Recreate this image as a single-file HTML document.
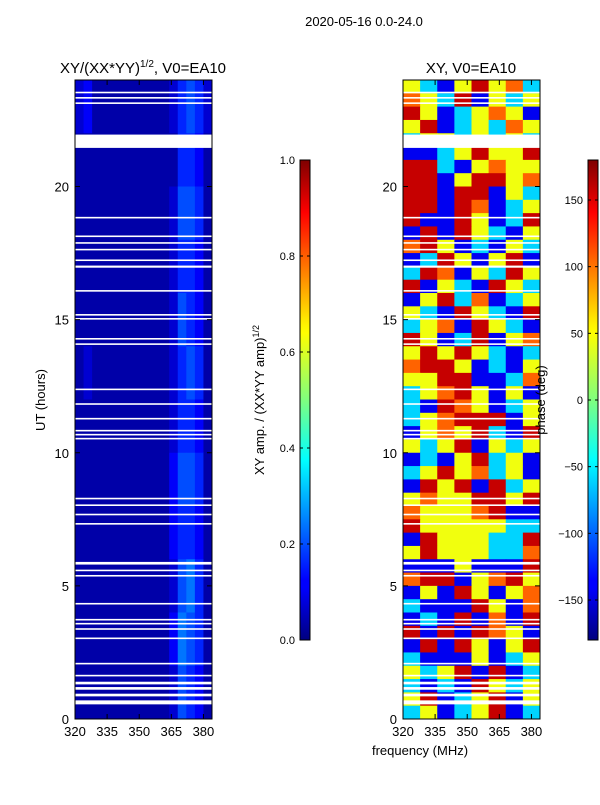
<!DOCTYPE html>
<html><head><meta charset="utf-8"><style>
body{margin:0;background:#fff;}
svg text{font-family:"Liberation Sans",sans-serif;fill:#000;}
</style></head><body>
<svg id="fig" width="600" height="800" xmlns="http://www.w3.org/2000/svg">
<defs>
<linearGradient id="jet" x1="0" y1="1" x2="0" y2="0">
<stop offset="0" stop-color="#00007f"/><stop offset="0.11" stop-color="#0000ff"/><stop offset="0.125" stop-color="#0000ff"/><stop offset="0.34" stop-color="#00dcff"/><stop offset="0.375" stop-color="#00ffff"/><stop offset="0.5" stop-color="#7fff7f"/><stop offset="0.64" stop-color="#ffff00"/><stop offset="0.66" stop-color="#fff000"/><stop offset="0.89" stop-color="#ff0000"/><stop offset="1" stop-color="#7f0000"/>
</linearGradient>
</defs>
<text x="364" y="26" font-size="13" text-anchor="middle">2020-05-16 0.0-24.0</text>
<g id="left"></g>
<g id="right"></g>
<text x="143" y="73" font-size="15" text-anchor="middle">XY/(XX*YY)<tspan font-size="10" dy="-6">1/2</tspan><tspan dy="6">, V0=EA10</tspan></text>
<text x="471" y="73" font-size="15" text-anchor="middle">XY, V0=EA10</text>
<text transform="translate(45,400) rotate(-90)" font-size="13" text-anchor="middle">UT (hours)</text>
<text x="420" y="755" font-size="13" text-anchor="middle">frequency (MHz)</text>
<rect x="300" y="160" width="10" height="480" fill="url(#jet)" stroke="#000" stroke-width="1"/>
<rect x="588" y="160" width="10" height="480" fill="url(#jet)" stroke="#000" stroke-width="1"/>
<text transform="translate(264,400) rotate(-90)" font-size="13" text-anchor="middle">XY amp. / (XX*YY amp)<tspan font-size="9" dy="-5">1/2</tspan></text>
<text transform="translate(545,400) rotate(-90)" font-size="13" text-anchor="middle">phase (deg)</text>
<g id="cb"></g>
</svg>
<script>
const hourMax=24, fMin=320, fMax=384;
const xTicks=[320,335,350,365,380];
const yTicks=[0,5,10,15,20];
const ampTicks=[0.0,0.2,0.4,0.6,0.8,1.0];
const phaseTicks=[-150,-100,-50,0,50,100,150];
// amplitude rows (2h each, top = 22-24h), 16 freq cols of 4 MHz, digit*0.04
const ampRows=[
"2311111111124542",
"1111111111114431",
"1111111111125541",
"1111111111124431",
"1111111111125431",
"1211111111124541",
"1111111111124431",
"1111111111135541",
"1111111111134431",
"1111111111125641",
"1111111111136541",
"1111111111125431"];
// phase codes, 48 rows of 0.5h (top = 23.5-24h), 8 freq cols of 8 MHz
const phaseCode={R:155,O:100,Y:40,G:0,C:-60,B:-140,D:-170};
const phaseRows=["YCBYRYOC","OYCRBYCY","RYBCYOYB","YRBCYCOY","CYYCYCYC","BBCYRYYR","RRCBYOYY","RRBYRRYO","RRBRRBYC","RRBROBCY","RBBRYBCR","BRBRYCBY","ORYBCBYC","BCRYBYRB","CROBYCRY","RBYCBRYC","BYRCOBCY","YCBRYCBR","CYOBRYCB","RYBCRBYO","YRYRYCBC","ORRYBCBY","YYRRBBCO","CYORYBYB","CBROYBCY","CYORRRBY","BYOYRCBR","YCYRBYCY","BCBYRCYB","CYRYOCYB","BRYRBRCY","YOYYRRYR","OYYYORBB","RYYYYYCC","BRYYYCCR","YRYYYCCO","BBBYBBBR","ORRBYORY","BYBRYBYO","CBBBRYBO","BCBRBOBR","RBRBROYB","BRBRYBYR","CBBBYBCY","YCYRBRBC","CBCBRYCY","YRBCYRBY","CYBCYRBC"];
// missing-data gaps: start hour, duration (h)
const gapStart=[23.5,23.3,23.1,21.45,18.8,18.1,17.85,17.6,17.2,16.95,16.05,15.15,15.0,14.25,14.05,12.35,11.8,11.25,10.8,10.65,10.5,8.25,8.0,7.65,7.3,5.8,5.55,5.35,4.3,3.7,3.55,3.35,3.0,2.05,1.6,1.3,1.1,0.85,0.55];
const gapDur=[0.06,0.06,0.06,0.5,0.06,0.06,0.06,0.06,0.06,0.08,0.06,0.06,0.06,0.06,0.06,0.06,0.06,0.06,0.06,0.06,0.06,0.06,0.06,0.06,0.06,0.1,0.06,0.06,0.06,0.06,0.06,0.06,0.06,0.06,0.06,0.1,0.1,0.1,0.15];

const NS="http://www.w3.org/2000/svg";
function jet(v){v=Math.max(0,Math.min(1,v));
 const c=x=>Math.round(255*Math.max(0,Math.min(1,x)));
 const r=c(1.5-Math.abs(4*v-3)),g=c(1.5-Math.abs(4*v-2)),b=c(1.5-Math.abs(4*v-1));
 return `rgb(${r},${g},${b})`;}
function mk(tag,attrs,parent){const e=document.createElementNS(NS,tag);for(const k in attrs)e.setAttribute(k,attrs[k]);parent.appendChild(e);return e;}
function panel(g,x0,x1,y0,y1,drawCells){
 const xs=f=>x0+(f-fMin)/(fMax-fMin)*(x1-x0);
 const ys=h=>y1-(h/hourMax)*(y1-y0);
 drawCells(xs,ys);
 gapStart.forEach((s,i)=>{
  const r=mk('rect',{x:x0,y:ys(s+gapDur[i]),width:x1-x0,height:Math.max(1.5,ys(s)-ys(s+gapDur[i])),fill:'#fff'},g);
  
  
 });
 const fr=mk('rect',{x:x0,y:y0,width:x1-x0,height:y1-y0,fill:'none',stroke:'#000','stroke-width':1},g);
 
 
 xTicks.forEach(t=>{const x=xs(t);
  mk('line',{x1:x,x2:x,y1:y1,y2:y1-5,stroke:'#000'},g);mk('line',{x1:x,x2:x,y1:y0,y2:y0+5,stroke:'#000'},g);
  const tx=mk('text',{x:x,y:y1+17,'font-size':13,'text-anchor':'middle'},g);tx.textContent=t;
  
  });
 yTicks.forEach(t=>{const y=ys(t);
  mk('line',{x1:x0,x2:x0+5,y1:y,y2:y,stroke:'#000'},g);mk('line',{x1:x1,x2:x1-5,y1:y,y2:y,stroke:'#000'},g);
  const tx=mk('text',{x:x0-6,y:y+5,'font-size':13,'text-anchor':'end'},g);tx.textContent=t;
  
  });
}
panel(document.getElementById('left'),75,212,80,719,(xs,ys)=>{
 const g=document.getElementById('left');
 ampRows.forEach((row,ri)=>{const hTop=hourMax-ri*2;
  [...row].forEach((ch,ci)=>{const f0=fMin+ci*4;
   const r=mk('rect',{x:xs(f0),y:ys(hTop),width:xs(f0+4)-xs(f0)+0.5,height:ys(hTop-2)-ys(hTop)+0.5,fill:jet(+ch*0.04)},g);
   
   });});
});
panel(document.getElementById('right'),403,540,80,719,(xs,ys)=>{
 const g=document.getElementById('right');
 phaseRows.forEach((row,ri)=>{const hTop=hourMax-ri*0.5;
  [...row].forEach((ch,ci)=>{const f0=fMin+ci*8;
   const r=mk('rect',{x:xs(f0),y:ys(hTop),width:xs(f0+8)-xs(f0)+0.5,height:ys(hTop-0.5)-ys(hTop)+0.5,fill:jet((phaseCode[ch]+180)/360)},g);
   
   });});
});
const cb=document.getElementById('cb');
ampTicks.forEach(t=>{const y=640-t*480;
 mk('line',{x1:300,x2:303,y1:y,y2:y,stroke:'#000'},cb);mk('line',{x1:310,x2:307,y1:y,y2:y,stroke:'#000'},cb);
 const tx=mk('text',{x:295,y:y+4,'font-size':11,'text-anchor':'end'},cb);tx.textContent=t.toFixed(1);
 
 });
phaseTicks.forEach(t=>{const y=640-(t+180)/360*480;
 mk('line',{x1:588,x2:591,y1:y,y2:y,stroke:'#000'},cb);mk('line',{x1:598,x2:595,y1:y,y2:y,stroke:'#000'},cb);
 const tx=mk('text',{x:583,y:y+4,'font-size':11,'text-anchor':'end'},cb);tx.textContent=t<0?'\u2212'+(-t):t;
 
 });
</script>
</body></html>
